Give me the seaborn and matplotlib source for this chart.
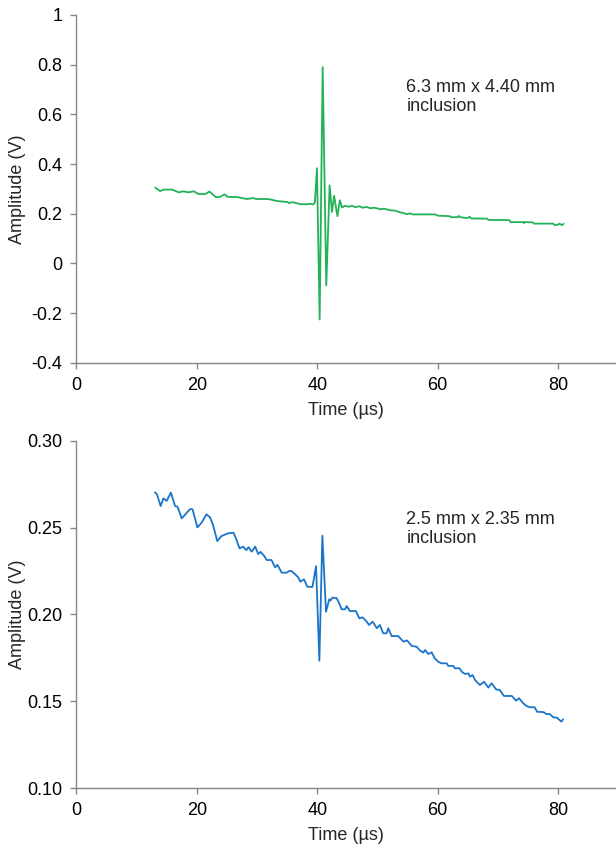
import matplotlib
matplotlib.use("Agg")
import matplotlib.pyplot as plt
import seaborn as sns
import pandas as pd

# --- data ---
# top panel: 6.3 mm x 4.40 mm inclusion
time_top = [13.1, 13.9, 14.5, 15.9, 17.0, 17.8, 18.6, 19.5, 20.3, 21.4, 22.1, 23.2, 23.9,
            24.6, 25.1, 26.7, 28.3, 29.4, 29.8, 31.9, 33.3, 35.0, 35.4, 35.6, 36.0, 37.2,
            38.3, 38.8, 39.3, 39.6, 39.95, 40.4, 40.9, 41.5, 42.05, 42.45, 42.8, 43.35,
            43.75, 44.1, 44.6, 45.2, 45.8, 46.3, 47.0, 47.5, 48.2, 48.8, 49.5, 50.5, 51.2,
            52.0, 53.0, 53.8, 54.3, 54.8, 55.4, 55.9, 59.6, 60.0, 62.0, 62.2, 63.3, 63.5,
            63.7, 64.6, 65.0, 65.3, 65.5, 68.2, 68.4, 71.9, 72.1, 74.2, 74.3, 74.4, 75.8,
            76.0, 79.2, 79.4, 79.9, 80.2, 80.6, 80.9]
amp_top = [0.305, 0.291, 0.297, 0.297, 0.286, 0.290, 0.286, 0.290, 0.279, 0.279, 0.289,
           0.266, 0.268, 0.278, 0.268, 0.267, 0.259, 0.263, 0.259, 0.259, 0.251, 0.247,
           0.242, 0.245, 0.246, 0.238, 0.238, 0.240, 0.237, 0.245, 0.383, -0.226, 0.790,
           -0.089, 0.314, 0.207, 0.272, 0.190, 0.254, 0.225, 0.232, 0.228, 0.232, 0.226,
           0.230, 0.224, 0.227, 0.222, 0.224, 0.218, 0.220, 0.214, 0.212, 0.205, 0.203,
           0.198, 0.201, 0.197, 0.197, 0.192, 0.190, 0.186, 0.186, 0.191, 0.186, 0.183,
           0.183, 0.188, 0.181, 0.180, 0.175, 0.174, 0.166, 0.166, 0.162, 0.166, 0.165,
           0.160, 0.160, 0.154, 0.155, 0.160, 0.154, 0.159]

# bottom panel: 2.5 mm x 2.35 mm inclusion
time_bot = [13.06, 13.4, 14.0, 14.45, 15.0, 15.7, 16.4, 16.8, 17.5, 18.0, 18.9, 19.3, 20.1,
            20.8, 21.6, 22.2, 22.7, 23.4, 24.1, 25.2, 26.1, 26.5, 27.1, 27.7, 28.2, 28.6,
            29.1, 29.7, 30.2, 30.6, 31.2, 31.6, 32.4, 33.0, 33.4, 34.1, 34.9, 35.35, 35.7,
            36.3, 36.85, 37.2, 37.8, 38.35, 39.2, 39.8, 40.35, 40.85, 41.45, 42.0, 42.2,
            42.5, 43.2, 43.65, 44.05, 44.6, 44.9, 45.4, 46.4, 47.0, 47.5, 48.1, 48.6, 49.2,
            49.9, 50.4, 50.95, 51.5, 51.8, 52.35, 53.45, 54.3, 54.9, 55.7, 56.5, 57.05,
            57.6, 57.9, 58.4, 59.0, 59.5, 60.1, 60.65, 61.5, 61.75, 62.6, 62.85, 63.6, 64.0,
            64.5, 65.1, 65.35, 65.8, 66.2, 67.0, 67.7, 68.4, 68.95, 69.7, 70.3, 71.0, 72.3,
            73.0, 73.5, 74.2, 74.75, 75.3, 76.1, 76.5, 77.6, 78.0, 78.6, 79.2, 79.8, 80.2,
            80.55, 80.8]
amp_bot = [0.2703, 0.2690, 0.2624, 0.2668, 0.2654, 0.2701, 0.2624, 0.2620, 0.2553, 0.2572,
           0.2607, 0.2605, 0.2501, 0.2528, 0.2576, 0.2559, 0.2515, 0.2422, 0.2451, 0.2467,
           0.2470, 0.2438, 0.2380, 0.2390, 0.2370, 0.2387, 0.2361, 0.2390, 0.2347, 0.2360,
           0.2336, 0.2313, 0.2313, 0.2271, 0.2285, 0.2240, 0.2240, 0.2250, 0.2250, 0.2232,
           0.2213, 0.2188, 0.2202, 0.2159, 0.2158, 0.2278, 0.1733, 0.2453, 0.2015, 0.2087,
           0.2080, 0.2096, 0.2094, 0.2064, 0.2029, 0.2029, 0.2048, 0.2019, 0.2019, 0.1977,
           0.1983, 0.1963, 0.1939, 0.1958, 0.1920, 0.1939, 0.1891, 0.1891, 0.1920, 0.1875,
           0.1875, 0.1843, 0.1850, 0.1818, 0.1814, 0.1792, 0.1780, 0.1795, 0.1772, 0.1781,
           0.1747, 0.1727, 0.1718, 0.1718, 0.1703, 0.1703, 0.1689, 0.1690, 0.1670, 0.1657,
           0.1660, 0.1641, 0.1650, 0.1622, 0.1593, 0.1612, 0.1578, 0.1603, 0.1568, 0.1564,
           0.1530, 0.1530, 0.1503, 0.1517, 0.1488, 0.1472, 0.1465, 0.1465, 0.1439, 0.1437,
           0.1426, 0.1426, 0.1407, 0.1405, 0.1392, 0.1382, 0.1396]

labels = ["6.3 mm x 4.40 mm\ninclusion", "2.5 mm x 2.35 mm\ninclusion"]
x_ticks = [0, 20, 40, 60, 80]
y_ticks_top = [-0.4, -0.2, 0, 0.2, 0.4, 0.6, 0.8, 1]
y_ticks_bot = [0.10, 0.15, 0.20, 0.25, 0.30]

sns.set_style("ticks")
plt.rcParams['font.family'] = ['Liberation Sans', 'DejaVu Sans']

fig = plt.figure(figsize=(6.16, 8.52), dpi=100)
ax_top = fig.add_axes([0.1239, 0.5743, 0.8761, 0.4081])
ax_bot = fig.add_axes([0.1239, 0.0751, 0.8761, 0.4076])

grey = '#868686'


def style_axis(ax, yticks, fmt):
    sns.despine(ax=ax)
    ax.spines['left'].set_color(grey)
    ax.spines['bottom'].set_color(grey)
    ax.spines['left'].set_linewidth(1.0)
    ax.spines['bottom'].set_linewidth(1.0)
    ax.set_xlim(0, 89.6)
    ax.set_xticks(x_ticks)
    ax.set_yticks(yticks)
    ax.set_yticklabels([fmt(v) for v in yticks])
    ax.tick_params(axis='both', direction='out', length=4, width=1, color=grey,
                   labelsize=13, labelcolor='black', pad=6)
    ax.set_xlabel('Time (\u00b5s)', fontsize=13, labelpad=6)
    ax.set_ylabel('Amplitude (V)', fontsize=13)
    ax.yaxis.set_label_coords(-0.094, 0.5)


# top panel
df_top = pd.DataFrame({'Time': time_top, 'Amplitude': amp_top})
sns.lineplot(data=df_top, x='Time', y='Amplitude', ax=ax_top, color='#22b357',
             linewidth=1.3, sort=False, estimator=None, solid_joinstyle='round')
ax_top.set_ylim(-0.4, 1.0)
style_axis(ax_top, y_ticks_top, lambda v: f"{v:g}")
ax_top.text(54.8, 0.743, labels[0], fontsize=13, va='top', ha='left', linespacing=1.15)

# bottom panel
df_bot = pd.DataFrame({'Time': time_bot, 'Amplitude': amp_bot})
sns.lineplot(data=df_bot, x='Time', y='Amplitude', ax=ax_bot, color='#1a75c9',
             linewidth=1.3, sort=False, estimator=None, solid_joinstyle='round')
ax_bot.set_ylim(0.10, 0.30)
style_axis(ax_bot, y_ticks_bot, lambda v: f"{v:.2f}")
ax_bot.text(54.8, 0.2595, labels[1], fontsize=13, va='top', ha='left', linespacing=1.15)

fig.savefig('out.png', dpi=100)
